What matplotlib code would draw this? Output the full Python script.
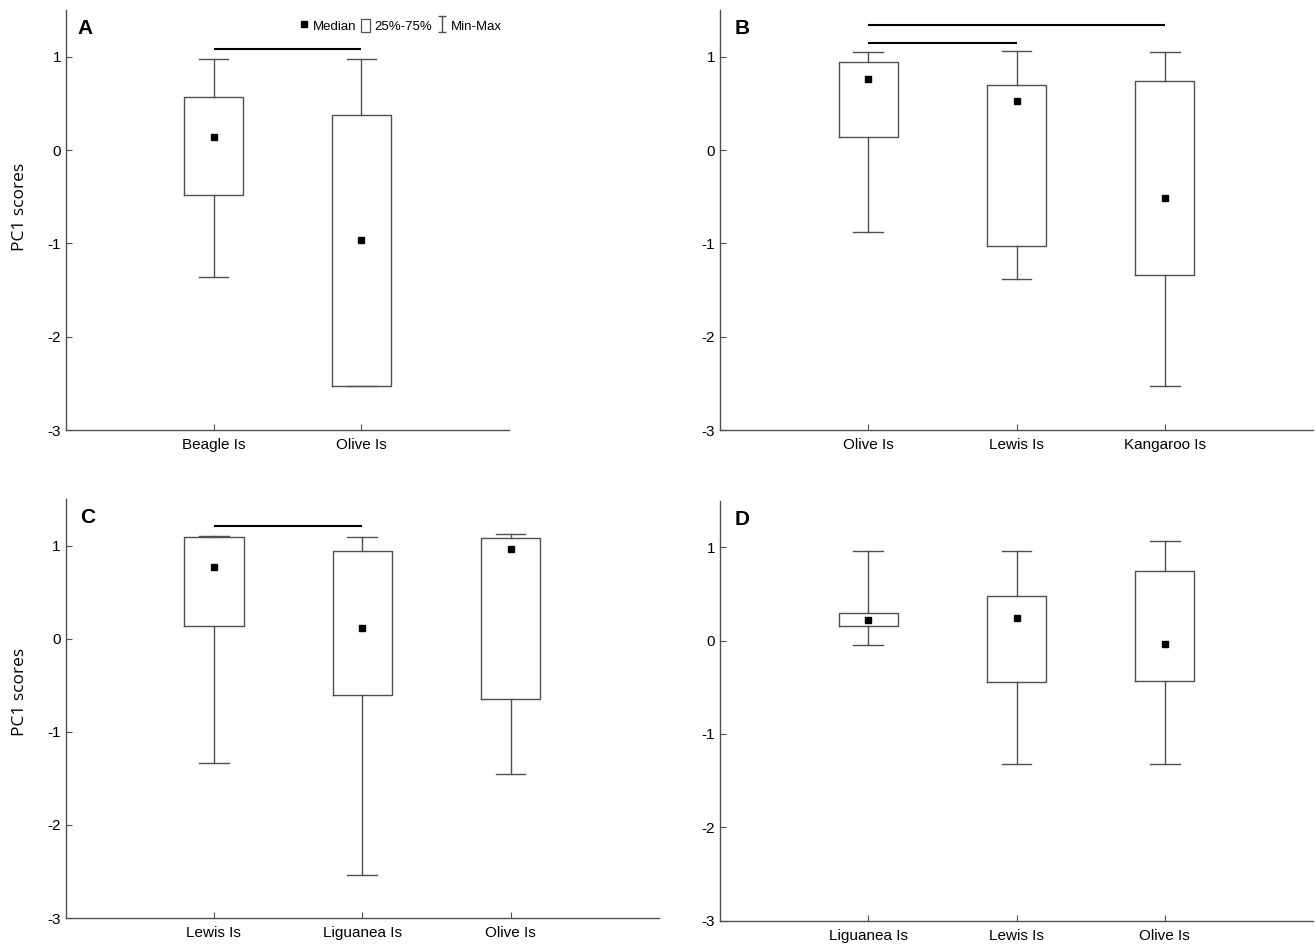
"""
PC1 scores box plots, four panels (A-D)
"""

import matplotlib
matplotlib.use("Agg")
import matplotlib.pyplot as plt
from matplotlib.lines import Line2D
from matplotlib.patches import Patch
from matplotlib.path import Path

plt.rcParams['font.family'] = ['Liberation Sans', 'DejaVu Sans']
plt.rcParams['axes.unicode_minus'] = False

# ---- data ----
A_groups = ["Beagle Is", "Olive Is"]
A_min = [-1.36, -2.53]
A_q1 = [-0.48, -2.53]
A_med = [0.14, -0.96]
A_q3 = [0.57, 0.37]
A_max = [0.98, 0.97]
A_sig = [(0, 1, 1.08)]

B_groups = ["Olive Is", "Lewis Is", "Kangaroo Is"]
B_min = [-0.88, -1.38, -2.53]
B_q1 = [0.14, -1.03, -1.34]
B_med = [0.76, 0.52, -0.51]
B_q3 = [0.94, 0.70, 0.74]
B_max = [1.05, 1.06, 1.05]
B_sig = [(0, 2, 1.34), (0, 1, 1.15)]

C_groups = ["Lewis Is", "Liguanea Is", "Olive Is"]
C_min = [-1.33, -2.54, -1.45]
C_q1 = [0.14, -0.60, -0.65]
C_med = [0.77, 0.11, 0.96]
C_q3 = [1.09, 0.94, 1.08]
C_max = [1.10, 1.09, 1.12]
C_sig = [(0, 1, 1.21)]

D_groups = ["Liguanea Is", "Lewis Is", "Olive Is"]
D_min = [-0.05, -1.32, -1.32]
D_q1 = [0.16, -0.44, -0.43]
D_med = [0.22, 0.24, -0.04]
D_q3 = [0.30, 0.48, 0.75]
D_max = [0.96, 0.96, 1.07]
D_sig = []

y_ticks = [-3, -2, -1, 0, 1]

EDGE = '#505050'


def draw_panel(ax, letter, groups, vmin, q1, med, q3, vmax, sig, ylabel=None):
    """箱形圖：中位數方塊 + 25-75% 箱 + 最小最大鬚"""
    stats = []
    for i in range(len(groups)):
        stats.append({'med': med[i], 'q1': q1[i], 'q3': q3[i],
                      'whislo': vmin[i], 'whishi': vmax[i], 'fliers': []})
    pos = list(range(1, len(groups) + 1))
    ax.bxp(stats, positions=pos, widths=0.4, showfliers=False,
           boxprops=dict(color=EDGE, linewidth=1.0),
           whiskerprops=dict(color=EDGE, linewidth=1.0),
           capprops=dict(color=EDGE, linewidth=1.0),
           medianprops=dict(linewidth=0))
    ax.plot(pos, med, 's', color='black', ms=5, zorder=5)

    for a, b, h in sig:
        ax.hlines(h, pos[a], pos[b], color='black', linewidth=1.5)

    ax.set_xlim(0, len(groups) + 1)
    ax.set_ylim(-3, 1.5)
    ax.set_xticks(pos)
    ax.set_xticklabels(groups, fontsize=11)
    ax.set_yticks(y_ticks)
    ax.set_yticklabels([str(t) for t in y_ticks], fontsize=11)
    ax.tick_params(direction='in', length=4, color=EDGE, width=0.8)
    ax.tick_params(axis='x', pad=6)
    for s in ['top', 'right']:
        ax.spines[s].set_visible(False)
    for s in ['left', 'bottom']:
        ax.spines[s].set_color(EDGE)
        ax.spines[s].set_linewidth(1.0)

    ax.text(0.025, 0.978, letter, transform=ax.transAxes, fontsize=15,
            fontweight='bold', va='top', ha='left')
    if ylabel:
        ax.set_ylabel(ylabel, fontsize=12.5, family=['Open Sans', 'DejaVu Sans'])


fig = plt.figure(figsize=(13.15, 9.46), dpi=100)
W, H = 1315.0, 946.0

ax_a = fig.add_axes([66 / W, 1 - 430 / H, 443 / W, 420 / H])
ax_b = fig.add_axes([720 / W, 1 - 430 / H, 593 / W, 420 / H])
ax_c = fig.add_axes([65.5 / W, 1 - 918 / H, 593.5 / W, 419 / H])
ax_d = fig.add_axes([720 / W, 1 - 920.5 / H, 593 / W, 420 / H])

draw_panel(ax_a, 'A', A_groups, A_min, A_q1, A_med, A_q3, A_max, A_sig, 'PC1 scores')
draw_panel(ax_b, 'B', B_groups, B_min, B_q1, B_med, B_q3, B_max, B_sig)
draw_panel(ax_c, 'C', C_groups, C_min, C_q1, C_med, C_q3, C_max, C_sig, 'PC1 scores')
draw_panel(ax_d, 'D', D_groups, D_min, D_q1, D_med, D_q3, D_max, D_sig)

ax_a.yaxis.set_label_coords(-0.086, 0.53)
ax_c.yaxis.set_label_coords(-0.064, 0.54)

# 圖例
ibeam = Path([(-0.5, 1), (0.5, 1), (0, 1), (0, -1), (-0.5, -1), (0.5, -1)],
             [Path.MOVETO, Path.LINETO, Path.MOVETO, Path.LINETO, Path.MOVETO, Path.LINETO])
handles = [
    Line2D([], [], marker='s', ls='none', color='black', ms=4.5),
    Patch(facecolor='white', edgecolor=EDGE, linewidth=0.9),
    Line2D([], [], marker=ibeam, ls='none', color=EDGE, ms=11, mew=1.0),
]
ax_a.legend(handles, ['Median', '25%-75%', 'Min-Max'], loc='center',
            bbox_to_anchor=(0.755, 0.962), ncol=3, frameon=False, fontsize=9.5,
            handlelength=0.7, handleheight=1.1, handletextpad=0.3, columnspacing=0.4)

fig.savefig('out.png', dpi=100)
